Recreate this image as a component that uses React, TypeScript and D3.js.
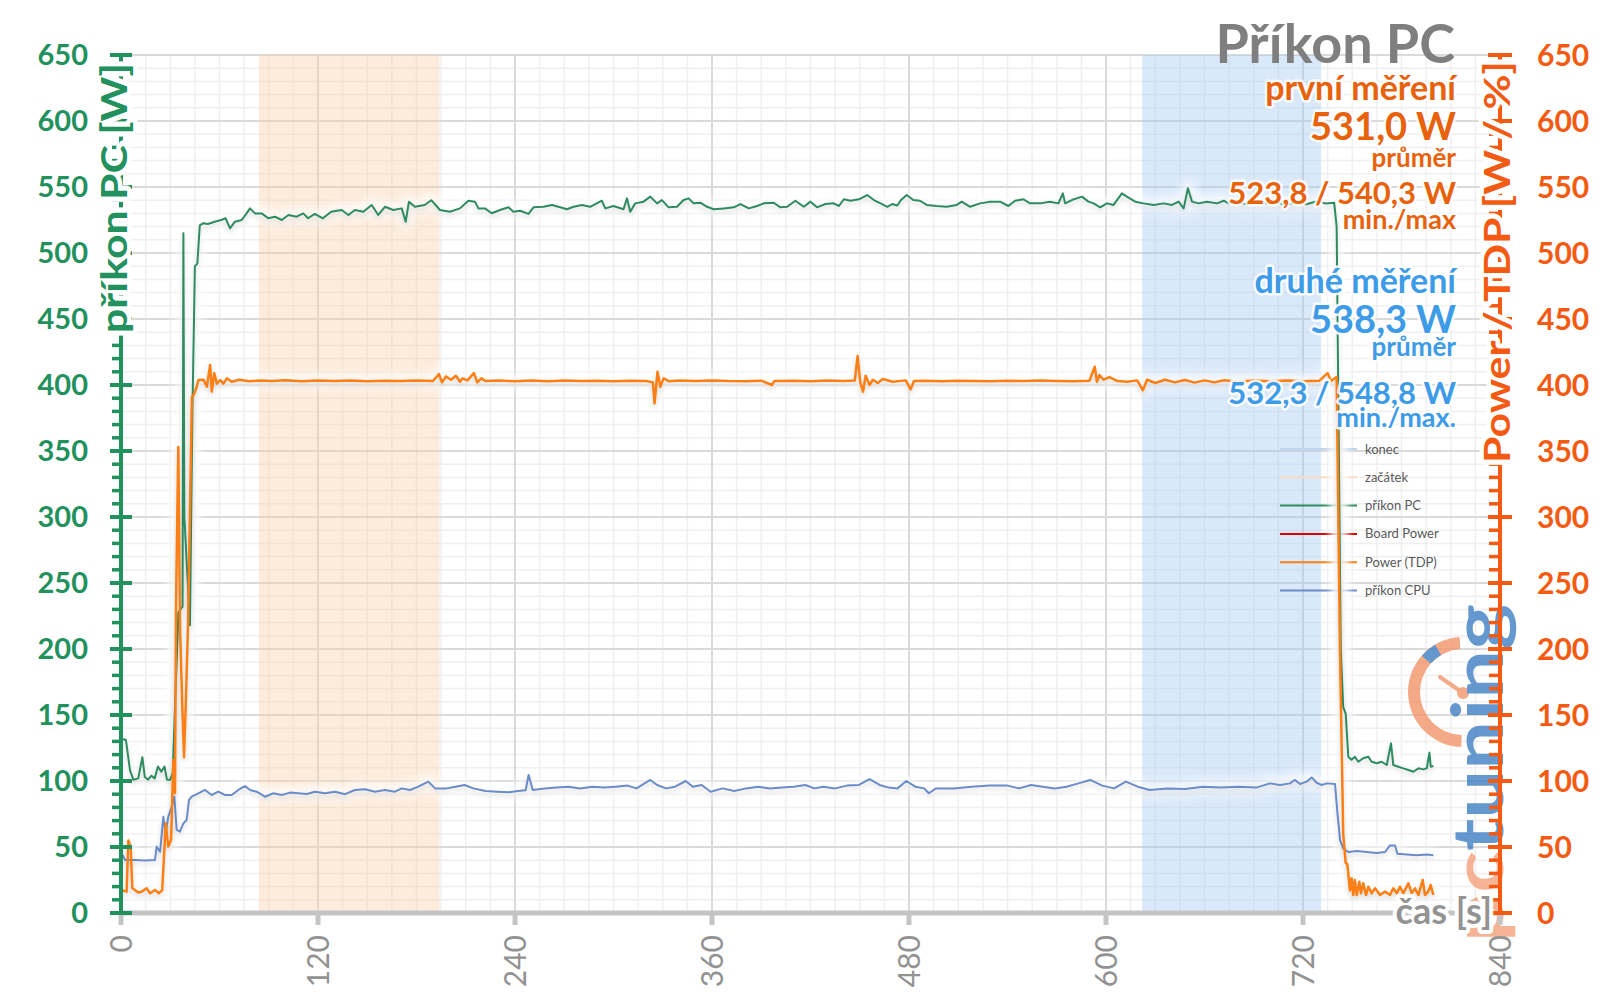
import React, { useEffect, useRef } from 'react';
import * as d3 from 'd3';

// Axis ticks
const timeTicks = [0, 120, 240, 360, 480, 600, 720, 840];
const powerTicks = [0, 50, 100, 150, 200, 250, 300, 350, 400, 450, 500, 550, 600, 650];

// Highlighted windows (start / end of the measured load), in seconds
const startBand = [84, 194];
const endBand = [622, 731];

// příkon PC [s, W]
const pcPower: [number, number][] = [
  [0, 132], [3, 131], [5.5, 108], [7.5, 101], [10.5, 102], [13, 118], [14.5, 103], [16.5, 101], [18.5, 104],
  [20.5, 102], [22.5, 111], [24.5, 107], [26.5, 111], [28, 101], [30, 101], [31.5, 106], [33, 160], [35, 228],
  [37.5, 232], [38, 515], [38.6, 300], [42, 218], [43.5, 380], [45, 490], [46.5, 492], [48, 521], [50, 522.5],
  [53, 522], [57, 523.7], [61, 525], [63.7, 526.3], [66.4, 518.7], [69.4, 523.7], [73.5, 525], [76.5, 530],
  [78.6, 533.8], [81.6, 530], [85.7, 530], [89.7, 526.3], [93.8, 527.5], [97.9, 525], [102, 528.8], [107, 527.5],
  [111, 530], [114, 526.3], [118, 529.6], [123, 526.3], [128, 531.3], [134.4, 532.6], [138.5, 528.8],
  [142.5, 532.6], [147.6, 531.3], [152.7, 536.4], [156.7, 528.8], [160.8, 535], [165.9, 532.6], [171, 533.8],
  [173.4, 523.7], [175.4, 538.9], [179, 535], [185, 536.4], [189, 540], [194.3, 532.6], [200.4, 531.3],
  [206.5, 533.8], [211.6, 539.6], [215.6, 538.9], [217.7, 533.8], [221.7, 533.8], [225.8, 530.1], [230.9, 532.6],
  [236, 534.6], [239, 531.3], [243.1, 532], [248.2, 529.6], [251.3, 534.6], [257.4, 535], [262.5, 536.4],
  [267.5, 534.6], [271.6, 533.1], [275.7, 535], [280.8, 536.4], [285.8, 535], [292.9, 539.6], [295, 533.8],
  [300, 535.6], [306.1, 533.1], [308.2, 541.4], [310.2, 531.3], [313.2, 537.6], [318.3, 538.9], [322.4, 542.7],
  [326.5, 537.6], [329.5, 540.1], [333.6, 534.6], [338.7, 535], [342.7, 540.1], [345.8, 541.4], [348.8, 537.6],
  [352.9, 538.1], [357, 535], [361.1, 533.1], [367.2, 533.8], [373.3, 534.6], [377.3, 537.1], [382.4, 533.8],
  [387.5, 535.6], [391.5, 537.6], [397.6, 538.1], [401.7, 534.6], [405.8, 535], [410.8, 539.6], [415.9, 535],
  [420, 538.9], [424, 534.6], [429.1, 537.1], [434.2, 537.6], [437.3, 535.6], [440.3, 540.7], [444.4, 539.6],
  [449.5, 540.7], [454.6, 543.9], [458.6, 540.1], [462.7, 537.6], [466.8, 535], [469.8, 537.1], [472.9, 536],
  [475, 540], [478.6, 543.9], [482.6, 540.1], [486.7, 539.6], [490.8, 536.4], [496.9, 535.6], [503, 535],
  [509.1, 536.4], [512.1, 538.9], [517.2, 535], [523.3, 537.6], [529.4, 538.9], [535.5, 538.9], [540.5, 535.6],
  [544.6, 539.6], [549.7, 540.7], [553.7, 537.6], [559.8, 537.6], [565.9, 538.9], [571, 537.6], [573.7, 545.2],
  [575.1, 537.6], [579.2, 540.1], [585.3, 542.7], [589.3, 538.9], [592.4, 537.6], [596.5, 534.6], [600.5, 537.6],
  [604.6, 536.4], [609.7, 545.2], [612.7, 542.7], [617.8, 538.9], [622.9, 537.6], [629, 536.4], [635.1, 537.6],
  [640.2, 536.4], [644.2, 538.9], [647.3, 533.8], [649.9, 549], [652.4, 538.9], [656.4, 537.6], [661.5, 538.9],
  [667.6, 537.6], [671.7, 539.6], [674.7, 537.6], [680, 538.5], [686, 537], [692, 539], [698, 537.5], [704, 538],
  [710, 536.5], [716, 538.5], [722, 537], [728, 539], [734, 537.5], [739, 538], [740.5, 520], [743, 200],
  [744.5, 156], [746, 151], [747.6, 118.4], [749.6, 116], [751.6, 118.4], [753.7, 114.6], [756.7, 117.2],
  [759.8, 118.4], [761.8, 114.6], [764.9, 113.4], [767.9, 114.6], [771, 112.1], [773.6, 128.5], [775, 112.1],
  [778.1, 110.8], [781.1, 109.6], [784.2, 108.3], [787.2, 107], [790.3, 109.6], [793.3, 108.8], [795.4, 109.6],
  [797, 121.5], [797.8, 110.8], [799.4, 111.3],
];

// Power (TDP) [s, W]
const tdpPower: [number, number][] = [
  [0, 17.4], [3.4, 16.2], [4.5, 55], [5.9, 50], [6.9, 18.7], [8.5, 17.4], [10.5, 15.5], [12.6, 16.2], [15.6, 18.7],
  [17.7, 15], [20.7, 17.4], [23.1, 15], [25.1, 17.4], [26.4, 47.7], [27.2, 68], [28.8, 50.3], [30.5, 55.3],
  [31.9, 116], [32.9, 90.8], [33.5, 232], [34.9, 353], [36, 214], [37.5, 150], [38.4, 118], [39.5, 160],
  [40.8, 217], [43.2, 391], [44.2, 392.4], [45.8, 397.5], [47.2, 403.8], [50.3, 404], [52.3, 398.7], [54.3, 415.2],
  [55.3, 395], [56.8, 409], [58.4, 401], [60.4, 403.8], [62.4, 401], [64.5, 405], [67.5, 402.5], [72, 404],
  [78, 402.8], [85, 403.5], [92, 403], [100, 403.6], [110, 402.9], [120, 403.4], [130, 403], [140, 403.5],
  [150, 402.8], [160, 403.3], [170, 403], [180, 403.4], [190, 403], [193.7, 408.3], [195.5, 402], [198, 406.5],
  [201, 404], [204, 407], [206.5, 402.5], [208, 405], [211, 403.5], [215, 409], [217, 402], [219.5, 405],
  [222, 403], [230, 403.5], [240, 402.8], [250, 403.4], [260, 402.8], [270, 403.5], [280, 403], [290, 403.2],
  [300, 402.9], [310, 403.3], [320, 403], [324, 402], [325, 386], [326.8, 410], [328.5, 398.7], [330.5, 405],
  [334, 402.8], [340, 403.4], [350, 403], [360, 403.4], [370, 403], [380, 402.9], [390, 403.3], [396.5, 400],
  [398, 403], [410, 403.3], [420, 402.8], [430, 403.4], [440, 403], [447, 403.5], [448.7, 422], [450.3, 402],
  [452, 395], [453.6, 407], [456, 400], [458, 404], [461, 401.5], [464, 404.5], [470, 402.5], [478, 403.5],
  [481, 396.7], [483, 403], [490, 403.3], [500, 402.9], [510, 403.2], [520, 403], [530, 402.8], [540, 403.3],
  [550, 403], [560, 403.4], [570, 403], [580, 402.8], [590, 403.3], [593.1, 413.8], [594.5, 402.5], [596, 407.5],
  [598.5, 404], [602, 406], [607, 403], [613, 402.5], [619, 403.5], [622.5, 396], [625, 404], [630, 401.5],
  [636, 404], [642, 402], [648, 403.8], [654, 401.8], [660, 403.5], [666, 402], [672, 403.6], [680, 402.5],
  [690, 403.4], [700, 402.8], [710, 403.5], [720, 402.9], [730, 403.3], [735, 409], [737, 403], [740.5, 406],
  [742.5, 200], [744.5, 60], [746, 38], [747, 37], [748.6, 17], [749.6, 26.3], [750.6, 13.6], [751.6, 25],
  [752.7, 13.6], [754.3, 23.7], [755.3, 14.9], [756.7, 22.5], [758.4, 13.6], [759.8, 19.9], [761.8, 14.9],
  [763.9, 18.7], [766.9, 13.6], [770, 16.2], [773, 13.6], [775, 18.7], [777.1, 14.9], [779.1, 19.9], [781.1, 14.9],
  [784.2, 22.5], [786.2, 14.9], [788.2, 18.7], [790.3, 13.6], [792.9, 25], [794.3, 13.6], [796.3, 16.2],
  [797.8, 21.2], [799.4, 13.6],
];

// příkon CPU [s, W]
const cpuPower: [number, number][] = [
  [0, 46.5], [2.4, 40.2], [8.5, 40.2], [14.6, 39.7], [20.7, 40.2], [21.7, 50.3], [23.8, 46.5], [25.8, 72.9],
  [27.2, 60.3], [28.8, 72.9], [30.9, 80.6], [32.5, 88.1], [33.9, 62.9], [35.9, 61.6], [38, 67.9], [40, 70.5],
  [41.4, 85.6], [43, 88.1], [47.1, 90.7], [51.2, 93.2], [55.2, 89.4], [59.3, 91.9], [63.4, 89.4], [67.4, 89.4],
  [71.5, 93.2], [75.5, 96.2], [78.6, 93.2], [82.6, 91.9], [87.7, 88.1], [92.8, 90.7], [97.9, 89.4], [103, 91.2],
  [108, 90.7], [113.1, 90.2], [118.2, 91.9], [124.3, 90.7], [130.4, 91.9], [136.5, 90], [142.5, 93.2],
  [148.6, 93.7], [154.7, 91.9], [160.8, 93.2], [166.9, 91.9], [171, 94.4], [176, 93.2], [181.1, 95.7],
  [187.2, 99.5], [191.3, 94.4], [198.4, 94.4], [203.8, 95.7], [209.3, 97], [214.7, 94.4], [221.9, 92.4],
  [229.1, 91.9], [236.4, 91.4], [241.8, 92.4], [246.5, 93], [248.3, 104.5], [250.8, 93.2], [258.1, 94.4],
  [265.3, 95], [272.5, 95.7], [279.7, 94.4], [287, 95.7], [294.2, 95], [301.4, 95.7], [308.6, 96.5], [314, 94.4],
  [322.4, 100.8], [326.6, 97], [332, 94.4], [337.5, 95.7], [344, 100], [348.3, 95.7], [353.7, 97], [359.2, 91.9],
  [366.4, 94.4], [373.6, 92.4], [380.8, 94.4], [388, 95.7], [395.3, 94.4], [402.5, 95], [409.7, 95.7],
  [416.9, 97], [422.4, 94.4], [427.8, 95.7], [435, 94.4], [442.2, 96.5], [449.5, 97], [456, 101.5], [462.1, 97],
  [467.6, 95], [473, 94.4], [478.4, 100], [483.8, 95.7], [489.2, 94.4], [492.1, 90.7], [496.5, 94.4],
  [507.3, 94.4], [518.2, 95.7], [529, 96.5], [539.9, 96.5], [547.1, 94.4], [554.3, 97], [561.5, 95.7],
  [568.8, 94.4], [576, 95.7], [583.2, 98.2], [590.4, 100.8], [597.7, 96.5], [604.9, 94.4], [612.1, 99.5],
  [619.3, 95.7], [626.6, 93.2], [637.4, 94.4], [648.3, 93.9], [659.1, 95.7], [669.9, 95], [680.8, 95.7],
  [691.6, 95], [699.9, 98.2], [706, 97], [712.1, 98.2], [715.1, 100.8], [718.2, 97.7], [722.2, 99.5],
  [725.3, 102.7], [728.3, 98.7], [731.4, 97], [734.4, 98.2], [739.5, 97.7], [741, 75.3], [742.6, 55.1],
  [744.6, 48.7], [747.6, 46.2], [752.7, 47], [758.8, 46.2], [764.9, 45.5], [770, 46.2], [773, 51.2],
  [776.1, 51.2], [777.5, 44.9], [783.2, 44.4], [789.3, 43.7], [795.4, 44.4], [799.4, 43.7],
];

// Summary texts
const firstRunTexts = ['první měření', '531,0 W', 'průměr', '523,8 / 540,3 W', 'min./max'];
const secondRunTexts = ['druhé měření', '538,3 W', 'průměr', '532,3 / 548,8 W', 'min./max.'];

// Legend
const legendNames = ['konec', 'začátek', 'příkon PC', 'Board Power', 'Power (TDP)', 'příkon CPU'];
const legendColors = ['#bcd6f0', '#f9dcc6', '#2e8b5f', '#e00000', '#fb7f12', '#6b8cc8'];

const FONT = "Lato, 'Open Sans', sans-serif";
const GREEN = '#22915d';
const ORANGE = '#f55a12';
const TEXT_ORANGE = '#e8620c';
const TEXT_BLUE = '#3d9be8';

const App = () => {
  const svgRef = useRef<SVGSVGElement | null>(null);

  useEffect(() => {
    const svg = d3.select(svgRef.current);
    svg.selectAll('*').remove();

    const width = 1600;
    const height = 1008;
    const m = { left: 121, right: 1500, top: 55, bottom: 913 };

    const x = d3.scaleLinear().domain([0, 840]).range([m.left, m.right]);
    const y = d3.scaleLinear().domain([0, 650]).range([m.bottom, m.top]);

    svg.attr('width', width).attr('height', height);
    svg.append('rect').attr('width', width).attr('height', height).attr('fill', '#fff');

    const defs = svg.append('defs');
    defs.append('filter').attr('id', 'glow')
      .attr('filterUnits', 'userSpaceOnUse')
      .attr('x', 0).attr('y', 0).attr('width', width).attr('height', height)
      .append('feGaussianBlur').attr('stdDeviation', 4);
    defs.append('filter').attr('id', 'shadow')
      .attr('filterUnits', 'userSpaceOnUse')
      .attr('x', 0).attr('y', 0).attr('width', width).attr('height', height)
      .append('feDropShadow')
      .attr('dx', 0).attr('dy', 3).attr('stdDeviation', 2.5)
      .attr('flood-color', '#000').attr('flood-opacity', 0.16);

    // Gridlines
    const grid = svg.append('g');
    const minorX = d3.range(0, 841, 15);
    const minorY = d3.range(0, 651, 10);
    grid.selectAll('line.mx').data(minorX).join('line')
      .attr('x1', d => x(d)).attr('x2', d => x(d)).attr('y1', m.top).attr('y2', m.bottom)
      .attr('stroke', '#efefef').attr('stroke-width', 1.5);
    grid.selectAll('line.my').data(minorY).join('line')
      .attr('x1', m.left).attr('x2', m.right).attr('y1', d => y(d)).attr('y2', d => y(d))
      .attr('stroke', '#efefef').attr('stroke-width', 1.5);
    grid.selectAll('line.Mx').data(timeTicks).join('line')
      .attr('x1', d => x(d)).attr('x2', d => x(d)).attr('y1', m.top).attr('y2', m.bottom)
      .attr('stroke', '#dadada').attr('stroke-width', 2);
    grid.selectAll('line.My').data(powerTicks).join('line')
      .attr('x1', m.left).attr('x2', m.right).attr('y1', d => y(d)).attr('y2', d => y(d))
      .attr('stroke', '#dadada').attr('stroke-width', 2);

    // Bands
    svg.append('rect')
      .attr('x', x(startBand[0])).attr('width', x(startBand[1]) - x(startBand[0]))
      .attr('y', m.top).attr('height', m.bottom - m.top)
      .attr('fill', '#fbcfa8').attr('opacity', 0.4);
    svg.append('rect')
      .attr('x', x(endBand[0])).attr('width', x(endBand[1]) - x(endBand[0]))
      .attr('y', m.top).attr('height', m.bottom - m.top)
      .attr('fill', '#a6cbf4').attr('opacity', 0.42);

    // Logo watermark (pctuning)
    const logo = svg.append('g').attr('opacity', 0.8);
    const arc = d3.arc();
    logo.append('path')
      .attr('transform', 'translate(1463,692)')
      .attr('d', arc({ innerRadius: 43, outerRadius: 55, startAngle: -Math.PI * 0.99, endAngle: -Math.PI * 0.02 } as any) as string)
      .attr('fill', '#f2956a');
    logo.append('path')
      .attr('transform', 'translate(1463,692)')
      .attr('d', arc({ innerRadius: 43, outerRadius: 55, startAngle: -Math.PI * 0.27, endAngle: -Math.PI * 0.17 } as any) as string)
      .attr('fill', '#3f7fc4');
    logo.append('line')
      .attr('x1', 1463).attr('y1', 693).attr('x2', 1440).attr('y2', 677)
      .attr('stroke', '#f2956a').attr('stroke-width', 4).attr('stroke-linecap', 'round');
    logo.append('circle').attr('cx', 1463).attr('cy', 693).attr('r', 6).attr('fill', '#f2956a');
    const logoText = logo.append('text')
      .attr('transform', 'translate(1503,942) rotate(-90)')
      .attr('font-family', FONT).attr('font-weight', 700).attr('font-size', 70)
      .attr('textLength', 338).attr('lengthAdjust', 'spacingAndGlyphs');
    logoText.append('tspan').attr('fill', '#f4a17c').text('pc');
    logoText.append('tspan').attr('fill', '#3f7fc4').text('tuning');

    // Legend
    const legend = svg.append('g');
    legendNames.forEach((name, i) => {
      const ly = 449 + i * 28.3;
      legend.append('line')
        .attr('x1', 1280).attr('x2', 1357).attr('y1', ly).attr('y2', ly)
        .attr('stroke', legendColors[i]).attr('stroke-width', 2);
      legend.append('text')
        .attr('x', 1365).attr('y', ly).attr('dy', '0.35em')
        .attr('font-family', FONT).attr('font-size', 13).attr('fill', '#595959')
        .text(name);
    });

    // Series
    const line = d3.line<[number, number]>().x(d => x(d[0])).y(d => y(d[1]));
    const series = [
      { data: pcPower, color: '#2e8b5f', w: 2 },
      { data: cpuPower, color: '#6b8cc8', w: 2 },
      { data: tdpPower, color: '#fb7f12', w: 2.5 },
    ];
    series.forEach(s => {
      svg.append('path').attr('d', line(s.data))
        .attr('fill', 'none').attr('stroke', '#fff').attr('stroke-width', 14)
        .attr('stroke-opacity', 0.75).attr('stroke-linejoin', 'round').attr('filter', 'url(#glow)');
    });
    series.forEach(s => {
      svg.append('path').attr('d', line(s.data))
        .attr('fill', 'none').attr('stroke', s.color).attr('stroke-width', s.w)
        .attr('stroke-linejoin', 'round').attr('filter', 'url(#shadow)');
    });

    // Bottom axis
    svg.append('line')
      .attr('x1', m.left).attr('x2', m.right).attr('y1', m.bottom).attr('y2', m.bottom)
      .attr('stroke', '#c4c4c4').attr('stroke-width', 5);
    svg.selectAll('line.xt').data(timeTicks).join('line')
      .attr('x1', d => x(d)).attr('x2', d => x(d)).attr('y1', m.bottom).attr('y2', m.bottom + 12)
      .attr('stroke', '#c4c4c4').attr('stroke-width', 5);
    svg.selectAll('text.xl').data(timeTicks).join('text')
      .attr('transform', d => `translate(${x(d)},935) rotate(-90)`)
      .attr('text-anchor', 'end').attr('dy', '0.35em')
      .attr('font-family', FONT).attr('font-size', 30).attr('fill', '#929292')
      .text(d => d);

    // Left axis
    const left = svg.append('g');
    left.append('line').attr('x1', m.left).attr('x2', m.left).attr('y1', m.top).attr('y2', m.bottom)
      .attr('stroke', GREEN).attr('stroke-width', 4);
    left.selectAll('line.mn').data(minorY).join('line')
      .attr('x1', m.left - 9).attr('x2', m.left).attr('y1', d => y(d)).attr('y2', d => y(d))
      .attr('stroke', GREEN).attr('stroke-width', 3.5);
    left.selectAll('line.mj').data(powerTicks).join('line')
      .attr('x1', m.left - 11).attr('x2', m.left + 11).attr('y1', d => y(d)).attr('y2', d => y(d))
      .attr('stroke', GREEN).attr('stroke-width', 4);
    left.selectAll('text').data(powerTicks).join('text')
      .attr('x', 88).attr('y', d => y(d)).attr('dy', '0.36em').attr('text-anchor', 'end')
      .attr('font-family', FONT).attr('font-weight', 700).attr('font-size', 29).attr('fill', GREEN)
      .text(d => d);

    // Right axis
    const right = svg.append('g');
    right.append('line').attr('x1', m.right).attr('x2', m.right).attr('y1', m.top).attr('y2', m.bottom)
      .attr('stroke', ORANGE).attr('stroke-width', 4);
    right.selectAll('line.mn').data(minorY).join('line')
      .attr('x1', m.right - 11).attr('x2', m.right).attr('y1', d => y(d)).attr('y2', d => y(d))
      .attr('stroke', ORANGE).attr('stroke-width', 3.5);
    right.selectAll('line.mj').data(powerTicks).join('line')
      .attr('x1', m.right - 12).attr('x2', m.right + 12).attr('y1', d => y(d)).attr('y2', d => y(d))
      .attr('stroke', ORANGE).attr('stroke-width', 4);
    right.selectAll('text').data(powerTicks).join('text')
      .attr('x', 1537).attr('y', d => y(d)).attr('dy', '0.36em').attr('text-anchor', 'start')
      .attr('font-family', FONT).attr('font-weight', 700).attr('font-size', 30).attr('fill', ORANGE)
      .text(d => d);

    // Axis titles (with white halo over axis lines)
    const halo = (sel: any, w: number) => sel
      .attr('stroke', '#fff').attr('stroke-width', w).attr('stroke-linejoin', 'round')
      .attr('paint-order', 'stroke');

    halo(svg.append('text')
      .attr('transform', 'translate(127,198) rotate(-90)')
      .attr('text-anchor', 'middle')
      .attr('font-family', FONT).attr('font-weight', 700).attr('font-size', 37).attr('fill', GREEN)
      .attr('textLength', 270).attr('lengthAdjust', 'spacingAndGlyphs')
      .text('příkon PC [W]'), 9);

    halo(svg.append('text')
      .attr('transform', 'translate(1510,262) rotate(-90)')
      .attr('text-anchor', 'middle')
      .attr('font-family', FONT).attr('font-weight', 700).attr('font-size', 37).attr('fill', ORANGE)
      .attr('textLength', 402).attr('lengthAdjust', 'spacingAndGlyphs')
      .text('Power / TDP [W / %]'), 9);

    halo(svg.append('text')
      .attr('x', 1492).attr('y', 924).attr('text-anchor', 'end')
      .attr('font-family', FONT).attr('font-weight', 700).attr('font-size', 36).attr('fill', '#939393')
      .text('čas [s]'), 8);

    // Title and summaries
    svg.append('text')
      .attr('x', 1455).attr('y', 63).attr('text-anchor', 'end')
      .attr('font-family', FONT).attr('font-weight', 700).attr('font-size', 54).attr('fill', '#7f7f7f')
      .text('Příkon PC');

    const rowBase = [100, 140, 167, 204, 229];
    const rowBase2 = [293, 333, 356, 404, 427];
    const rowSize = [34, 38, 26, 31, 27];
    const drawBlock = (texts: string[], bases: number[], color: string) => {
      texts.forEach((t, i) => {
        halo(svg.append('text')
          .attr('x', 1456).attr('y', bases[i]).attr('text-anchor', 'end')
          .attr('font-family', FONT).attr('font-weight', 700).attr('font-size', rowSize[i]).attr('fill', color)
          .text(t), 5).attr('stroke-opacity', 0.85);
      });
    };
    drawBlock(firstRunTexts, rowBase, TEXT_ORANGE);
    drawBlock(secondRunTexts, rowBase2, TEXT_BLUE);
  }, []);

  return (
    <div style={{ position: 'fixed', left: 0, top: 0, width: 1600, height: 1008, background: '#fff' }}>
      <svg ref={svgRef}></svg>
    </div>
  );
};

export default App;
